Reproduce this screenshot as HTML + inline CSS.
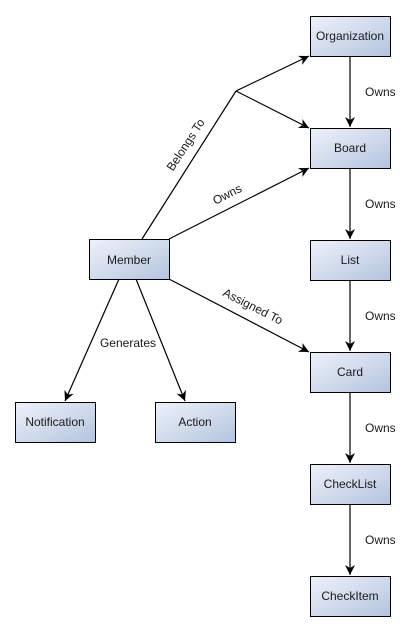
<!DOCTYPE html>
<html><head><style>
body{margin:0;background:#fff;}
svg text{font-family:"Liberation Sans",sans-serif;font-size:12px;fill:#1a1a1a;}
</style></head><body>
<svg width="413" height="630" xmlns="http://www.w3.org/2000/svg">
<defs>
<linearGradient id="g" x1="0" y1="0" x2="1" y2="1">
<stop offset="0" stop-color="#eef2fa"/><stop offset="1" stop-color="#b3c4de"/>
</linearGradient>
<marker id="a" markerWidth="12" markerHeight="12" refX="10" refY="5" orient="auto" markerUnits="userSpaceOnUse">
<path d="M0,0 L10,5 L0,10 L3,5 Z" fill="#000"/>
</marker>
</defs>
<g stroke="#000" stroke-width="1.2" fill="none">
<polyline points="142,239 236,91"/>
<line x1="236" y1="91" x2="309" y2="56" marker-end="url(#a)"/>
<line x1="236" y1="91" x2="309" y2="128" marker-end="url(#a)"/>
<line x1="169" y1="239" x2="309" y2="168" marker-end="url(#a)"/>
<line x1="169" y1="279" x2="309" y2="352" marker-end="url(#a)"/>
<line x1="119" y1="279" x2="65" y2="401" marker-end="url(#a)"/>
<line x1="136" y1="279" x2="185" y2="401" marker-end="url(#a)"/>
<line x1="350" y1="56" x2="350" y2="127" marker-end="url(#a)"/>
<line x1="350" y1="168" x2="350" y2="239" marker-end="url(#a)"/>
<line x1="350" y1="280" x2="350" y2="351" marker-end="url(#a)"/>
<line x1="350" y1="392" x2="350" y2="463" marker-end="url(#a)"/>
<line x1="350" y1="504" x2="350" y2="575" marker-end="url(#a)"/>
</g>
<g stroke="#000" stroke-width="1" fill="url(#g)">
<rect x="310.5" y="16.5" width="80" height="40"/>
<rect x="310.5" y="128.5" width="80" height="40"/>
<rect x="310.5" y="240.5" width="80" height="40"/>
<rect x="310.5" y="352.5" width="80" height="40"/>
<rect x="310.5" y="464.5" width="80" height="40"/>
<rect x="310.5" y="576.5" width="80" height="40"/>
<rect x="89.5" y="239.5" width="80" height="40"/>
<rect x="15.5" y="402.5" width="80" height="40"/>
<rect x="155.5" y="402.5" width="80" height="40"/>
</g>
<g text-anchor="middle">
<text x="350" y="40">Organization</text>
<text x="350" y="152">Board</text>
<text x="350" y="264">List</text>
<text x="350" y="376">Card</text>
<text x="350" y="488">CheckList</text>
<text x="350" y="600">CheckItem</text>
<text x="129" y="264">Member</text>
<text x="55" y="426">Notification</text>
<text x="195" y="426">Action</text>
<text x="128" y="347">Generates</text>
</g>
<g>
<text x="365" y="96">Owns</text>
<text x="365" y="208">Owns</text>
<text x="365" y="320">Owns</text>
<text x="365" y="432">Owns</text>
<text x="365" y="544">Owns</text>
</g>
<text transform="translate(189,147) rotate(-57)" text-anchor="middle">Belongs To</text>
<text transform="translate(229,198) rotate(-27)" text-anchor="middle">Owns</text>
<text transform="translate(251,310) rotate(27)" text-anchor="middle">Assigned To</text>
</svg>
</body></html>
